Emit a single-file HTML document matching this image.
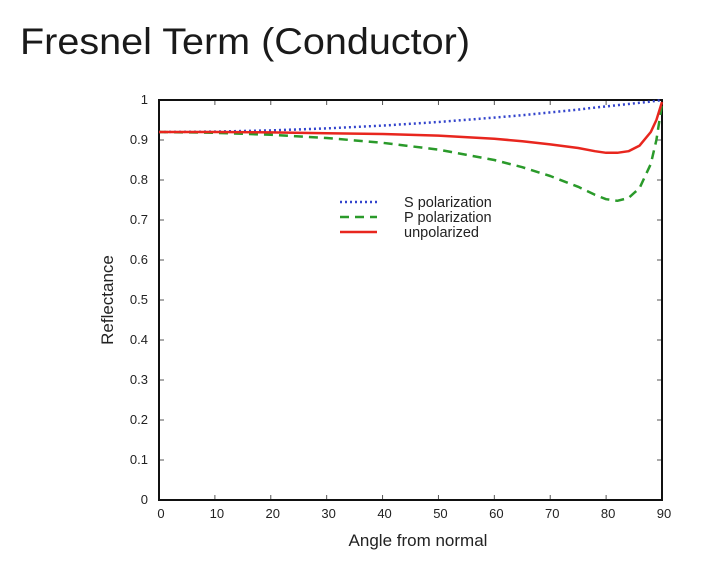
<!DOCTYPE html>
<html><head><meta charset="utf-8"><style>
body{margin:0;background:#fff;width:719px;height:570px;overflow:hidden}
svg{position:absolute;left:0;top:0}
text{font-family:"Liberation Sans",sans-serif}
</style></head><body>
<svg id="c" width="719" height="570">
<text x="20" y="54" font-size="37" fill="#1a1a1a" textLength="450" lengthAdjust="spacingAndGlyphs">Fresnel Term (Conductor)</text>
</svg>
<script>
const angles=[0,10,20,30,40,50,60,65,70,75,78,80,82,84,86,88,89,90];
const sPol=[.92,.921,.924,.929,.936,.945,.956,.962,.969,.976,.981,.984,.987,.990,.993,.996,.998,1];
const pPol=[.92,.918,.913,.905,.893,.876,.850,.832,.810,.783,.763,.752,.748,.755,.78,.84,.90,.99];
const unPol=[.92,.92,.919,.917,.915,.911,.903,.897,.889,.880,.872,.868,.868,.872,.886,.92,.95,.995];
const xTicks=[0,10,20,30,40,50,60,70,80,90];
const yTicks=[0,0.1,0.2,0.3,0.4,0.5,0.6,0.7,0.8,0.9,1];
const L=159,R=662,T=100,B=500;
const X=v=>L+(v/90)*(R-L), Y=v=>B-v*(B-T);
const svg=document.getElementById('c');
const NS='http://www.w3.org/2000/svg';
function mk(t,a){const e=document.createElementNS(NS,t);for(const k in a)e.setAttribute(k,a[k]);svg.appendChild(e);return e;}
xTicks.forEach(v=>{
 const l=mk('line',{x1:X(v),x2:X(v),y1:B,y2:B-5,stroke:'#555'});
 
 
 const l2=mk('line',{x1:X(v),x2:X(v),y1:T,y2:T+5,stroke:'#555'});
 
 
 const t=mk('text',{x:X(v)+2,y:B+18,'font-size':13,'text-anchor':'middle',fill:'#222'});
 t.textContent=v;
 
 
});
yTicks.forEach(v=>{
 const l=mk('line',{x1:L,x2:L+5,y1:Y(v),y2:Y(v),stroke:'#555'});
 
 
 const l2=mk('line',{x1:R,x2:R-5,y1:Y(v),y2:Y(v),stroke:'#555'});
 
 
 const t=mk('text',{x:L-11,y:Y(v)+4,'font-size':13,'text-anchor':'end',fill:'#222'});
 t.textContent=String(v);
 
 
});
const box=mk('rect',{x:L,y:T,width:R-L,height:B-T,fill:'none',stroke:'#111','stroke-width':2});


function series(vals,color,dash,name){
 const d=angles.map((a,i)=>(i?'L':'M')+X(a).toFixed(1)+' '+Y(vals[i]).toFixed(1)).join(' ');
 const p=mk('path',{d:d,fill:'none',stroke:color,'stroke-width':2.5,'stroke-dasharray':dash,'stroke-linejoin':'round'});
 
 
}
series(sPol,'#3344cc','2,3','s-polarization-line');
series(pPol,'#2a9a2a','9,6','p-polarization-line');
series(unPol,'#e8261e','none','unpolarized-line');
const leg=[['S polarization','#3344cc','2,3'],['P polarization','#2a9a2a','9,6'],['unpolarized','#e8261e','none']];
leg.forEach((e,i)=>{
 const y=202+i*15;
 const l=mk('line',{x1:340,x2:377,y1:y,y2:y,stroke:e[1],'stroke-width':2.5,'stroke-dasharray':e[2]});
 
 
 const t=mk('text',{x:404,y:y+5,'font-size':14.5,fill:'#222'});
 t.textContent=e[0];
 
 
});
const xt=mk('text',{x:418,y:546,'font-size':17,'text-anchor':'middle',fill:'#222'});
xt.textContent='Angle from normal';


const yt=mk('text',{x:0,y:0,'font-size':17,'text-anchor':'middle',fill:'#222',transform:'translate(113,300) rotate(-90)'});
yt.textContent='Reflectance';


</script>
</body></html>
